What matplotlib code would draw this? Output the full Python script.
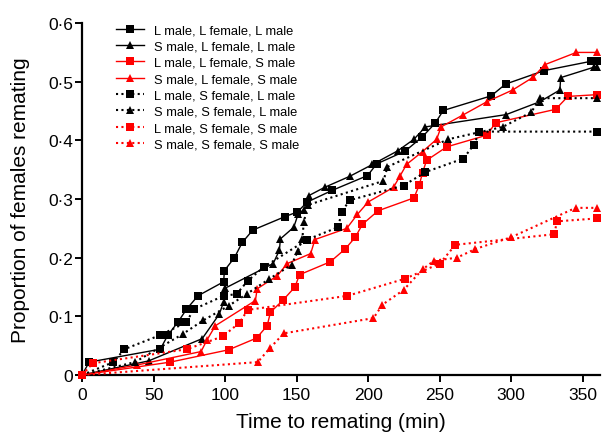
import matplotlib
matplotlib.use("Agg")
import matplotlib.pyplot as plt
from matplotlib.ticker import FuncFormatter

plt.rcParams['font.family'] = ['Liberation Sans', 'DejaVu Sans']

# L male, L female, L male
t_lll = [0, 5, 54.7, 60, 67, 73, 81, 99, 99.5, 106.5, 112, 119.3, 141.8, 150.5, 157.5, 175, 199.5,
         206, 226, 237.8, 246.7, 252.5, 286, 296, 323, 356, 360]
p_lll = [0, .022, .044, .068, .09, .112, .135, .159, .178, .2, .226, .247, .27, .278, .295, .315, .34,
         .36, .382, .406, .429, .451, .476, .496, .519, .535, .535]

# S male, L female, L male
t_sll = [0, 46.5, 84, 96, 99, 100, 133.6, 138, 138.6, 148, 151, 155, 158.6, 169.6, 187.3, 203,
         220.5, 232, 240, 296.4, 320, 334, 334.5, 358, 360]
p_sll = [0, .024, .062, .104, .125, .148, .19, .213, .232, .252, .274, .282, .306, .32, .339, .359,
         .382, .402, .423, .444, .466, .486, .507, .525, .525]

# L male, L female, S male
t_lls = [0, 61.7, 102.5, 122, 129.4, 131.7, 140.6, 148.8, 152, 173.5, 184, 191, 196, 206.9, 232,
         235.7, 238, 240.8, 254.9, 283, 289, 331, 339.6, 360]
p_lls = [0, .022, .043, .063, .084, .107, .128, .15, .171, .193, .215, .235, .257, .28, .302,
         .324, .345, .366, .389, .409, .43, .453, .475, .478]

# S male, L female, S male
t_sls = [0, 38.3, 83.2, 87.4, 93.2, 121.2, 122.4, 136.4, 143.4, 159.8, 162.8, 185, 192.5, 200,
         217.7, 222.4, 226.8, 238, 247.9, 250.9, 266, 283, 301, 315.5, 323.3, 345.5, 360]
p_sls = [0, .017, .04, .06, .084, .127, .147, .169, .19, .207, .231, .25, .274, .295,
         .32, .34, .359, .381, .402, .423, .443, .466, .486, .508, .529, .55, .55]

# L male, S female, L male
t_lsl = [0, 22, 29.6, 54.7, 73, 78, 99, 108, 116, 127, 157.5, 179, 181.5, 187, 224.7, 240,
         266.5, 274, 277.7, 360]
p_lsl = [0, .022, .044, .068, .09, .112, .135, .138, .161, .184, .231, .252, .278, .298, .323, .346,
         .369, .393, .415, .415]

# S male, S female, L male
t_ssl = [0, 37, 70.5, 84.6, 102.5, 115, 131, 146.5, 151, 154, 155, 158, 210.7, 213.5, 256,
         294, 314, 320, 360]
p_ssl = [0, .022, .07, .093, .118, .138, .164, .188, .212, .232, .261, .29, .331, .355, .402,
         .423, .448, .472, .472]

# L male, S female, S male
t_lss = [0, 7.5, 73.4, 98.5, 110, 115.8, 185.5, 225.6, 250, 261, 330, 332, 360]
p_lss = [0, .02, .044, .066, .089, .111, .135, .164, .19, .222, .24, .262, .267]

# S male, S female, S male
t_sss = [0, 122.8, 131.4, 141, 203.7, 210, 224.7, 238, 246, 262, 275, 300, 345, 360]
p_sss = [0, .022, .046, .071, .097, .12, .145, .18, .195, .2, .215, .235, .285, .285]

labels = ["L male, L female, L male", "S male, L female, L male",
          "L male, L female, S male", "S male, L female, S male",
          "L male, S female, L male", "S male, S female, L male",
          "L male, S female, S male", "S male, S female, S male"]

red = '#ff0000'
dots = (0, (1, 1.6))

fig = plt.figure(figsize=(6.03, 4.35), dpi=100)
ax = fig.add_axes([0.136, 0.1356, 0.859, 0.809])

series = [
    (t_lll, p_lll, 'k', 's', '-'),
    (t_sll, p_sll, 'k', '^', '-'),
    (t_lls, p_lls, red, 's', '-'),
    (t_sls, p_sls, red, '^', '-'),
    (t_lsl, p_lsl, 'k', 's', dots),
    (t_ssl, p_ssl, 'k', '^', dots),
    (t_lss, p_lss, red, 's', dots),
    (t_sss, p_sss, red, '^', dots),
]
for (t, p, c, m, ls), lab in zip(series, labels):
    lw = 1.0 if ls == '-' else 1.5
    ax.plot(t, p, color=c, marker=m, linestyle=ls, linewidth=lw, markersize=6.3,
            markeredgewidth=0, label=lab, clip_on=False, zorder=3)

ax.set_xlim(0, 362)
ax.set_ylim(0, 0.6)
ax.set_xticks(range(0, 351, 50))
ax.set_yticks([0, .1, .2, .3, .4, .5, .6])
ax.yaxis.set_major_formatter(FuncFormatter(lambda v, pos: "0" if v == 0 else ("%.1f" % v).replace(".", "\u00b7")))

for s in ['top', 'right']:
    ax.spines[s].set_visible(False)
for s in ['left', 'bottom']:
    ax.spines[s].set_linewidth(1.6)
ax.tick_params(direction='out', length=5, width=1.4, labelsize=12.5)
ax.tick_params(axis='y', pad=1.5)

ax.set_xlabel("Time to remating (min)", fontsize=15, labelpad=7.5)
ax.set_ylabel("Proportion of females remating", fontsize=15, labelpad=13)

ax.legend(loc='upper left', bbox_to_anchor=(0.043, 1.03), frameon=False, fontsize=9.3,
          handlelength=2.17, labelspacing=0.33, handletextpad=0.78, markerscale=0.9)

fig.savefig("out.png", dpi=100)
